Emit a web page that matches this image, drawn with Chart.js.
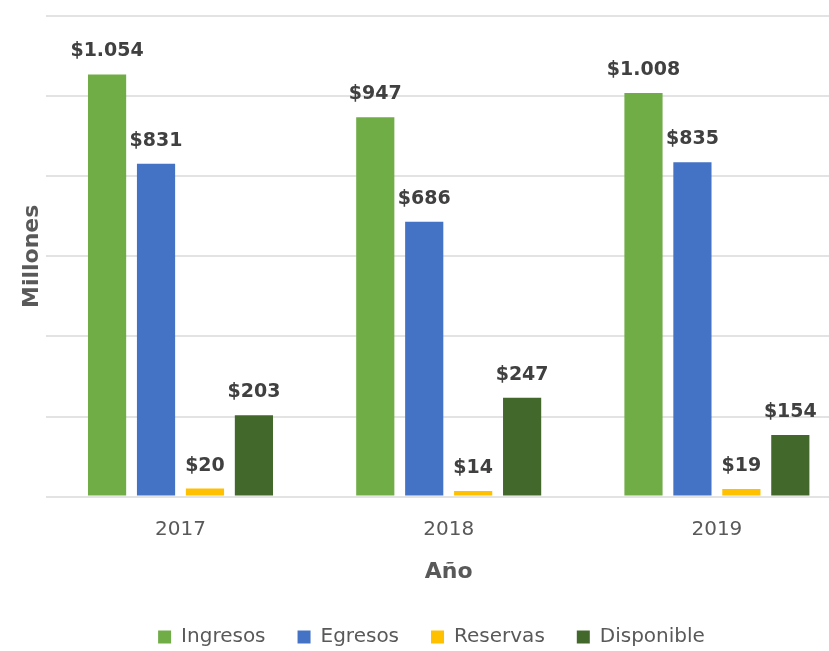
<!DOCTYPE html>
<html>
<head>
<meta charset="utf-8">
<script src="https://cdn.jsdelivr.net/npm/chart.js@4/dist/chart.umd.min.js"></script>
<style>
    html, body { margin: 0; padding: 0; background: #fff; overflow: hidden; }
    #wrap { width: 855px; height: 651px; position: relative; }
</style>
</head>
<body>
<div id="wrap"><canvas id="graficoAnual"></canvas></div>
<script>
const anios = ['2017', '2018', '2019'];
const ingresos = [1054, 947, 1008];
const egresos = [831, 686, 835];
const reservas = [20, 14, 19];
const disponible = [203, 247, 154];
const ticksY = [0, 200, 400, 600, 800, 1000, 1200];

const grisTexto = '#595959';

// etiquetas de valor sobre cada barra
const etiquetasBarras = {
    id: 'etiquetasBarras',
    afterDatasetsDraw(chart) {
        const ctx = chart.ctx;
        ctx.save();
        ctx.font = 'bold 19px "DejaVu Sans"';
        ctx.fillStyle = '#404040';
        ctx.textAlign = 'center';
        ctx.textBaseline = 'alphabetic';
        chart.data.datasets.forEach((ds, i) => {
            const meta = chart.getDatasetMeta(i);
            meta.data.forEach((bar, j) => {
                const texto = '$' + ds.data[j].toLocaleString('es-ES', { useGrouping: 'always' });
                ctx.fillText(texto, bar.x, bar.y - 18);
            });
        });
        ctx.restore();
    }
};

const comun = { categoryPercentage: 0.73, barPercentage: 0.78 };

new Chart(document.getElementById('graficoAnual'), {
    type: 'bar',
    data: {
        labels: anios,
        datasets: [
            { label: 'Ingresos', data: ingresos, backgroundColor: '#70AD47', ...comun },
            { label: 'Egresos', data: egresos, backgroundColor: '#4472C4', ...comun },
            { label: 'Reservas', data: reservas, backgroundColor: '#FFC000', ...comun },
            { label: 'Disponible', data: disponible, backgroundColor: '#43682B', ...comun }
        ]
    },
    options: {
        responsive: true,
        maintainAspectRatio: false,
        animation: false,
        layout: { padding: { left: 12, right: 4, top: 16, bottom: -6 } },
        plugins: {
            tooltip: { enabled: false },
            legend: {
                position: 'bottom',
                labels: { boxWidth: 13, boxHeight: 13, padding: 32, color: grisTexto, font: { family: 'DejaVu Sans', size: 20 } }
            }
        },
        scales: {
            x: {
                grid: { display: false },
                border: { display: false },
                ticks: { color: grisTexto, padding: 13, font: { family: 'DejaVu Sans', size: 20 } },
                title: { display: true, text: 'Año', color: grisTexto, padding: { top: 4, bottom: 10 }, font: { family: 'DejaVu Sans', size: 22, weight: 'bold' } }
            },
            y: {
                min: 0,
                max: 1200,
                afterBuildTicks: (axis) => { axis.ticks = ticksY.map(v => ({ value: v })); },
                grid: { color: '#E3E3E3', lineWidth: 2, drawTicks: false },
                border: { display: false },
                ticks: { display: false },
                title: { display: true, text: 'Millones', color: grisTexto, padding: { top: 7, bottom: 1 }, font: { family: 'DejaVu Sans', size: 22, weight: 'bold' } }
            }
        }
    },
    plugins: [etiquetasBarras]
});
</script>
</body>
</html>
